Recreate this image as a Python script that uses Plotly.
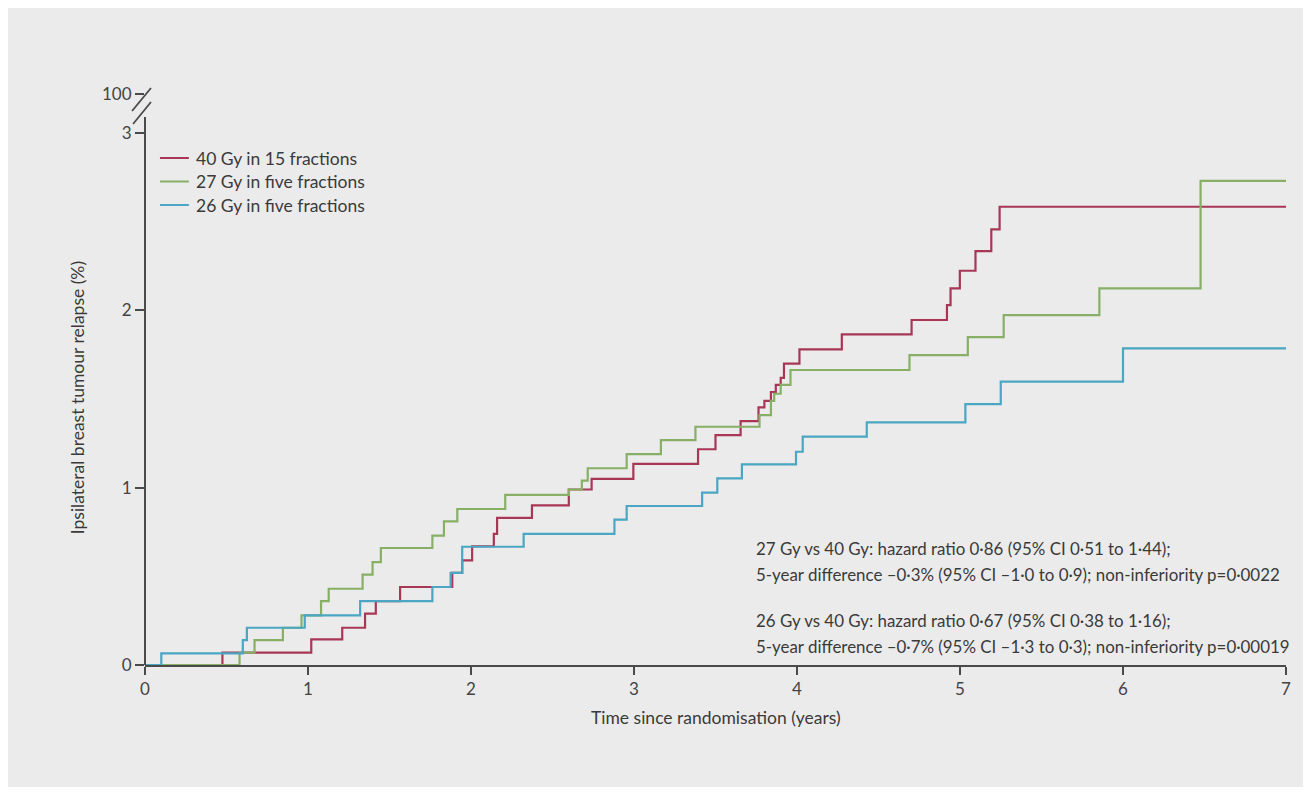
import plotly.graph_objects as go

# ---------------- data ----------------
series_names = ["40 Gy in 15 fractions", "27 Gy in five fractions", "26 Gy in five fractions"]

t_40 = [0, 0.475, 1.02, 1.21, 1.35, 1.416, 1.565, 1.885, 1.946, 2.007, 2.14, 2.16, 2.374, 2.60, 2.74,
        2.996, 3.393, 3.50, 3.654, 3.764, 3.80, 3.84, 3.87, 3.90, 3.92, 4.015, 4.275, 4.703, 4.92,
        4.942, 4.999, 5.095, 5.192, 5.243, 7.0]
v_40 = [0, 0.07, 0.145, 0.21, 0.29, 0.36, 0.44, 0.52, 0.59, 0.67, 0.74, 0.83, 0.90, 0.99, 1.05,
        1.134, 1.217, 1.297, 1.376, 1.453, 1.49, 1.54, 1.58, 1.62, 1.70, 1.78, 1.865, 1.946, 2.03,
        2.125, 2.224, 2.335, 2.457, 2.585, 2.585]

t_27 = [0, 0.58, 0.672, 0.846, 0.96, 1.08, 1.127, 1.335, 1.396, 1.447, 1.763, 1.834, 1.916, 2.21,
        2.60, 2.68, 2.716, 2.955, 3.165, 3.377, 3.77, 3.84, 3.86, 3.90, 3.96, 4.69, 5.048, 5.268,
        5.855, 6.476, 7.0]
v_27 = [0, 0.07, 0.14, 0.21, 0.28, 0.36, 0.43, 0.51, 0.58, 0.66, 0.73, 0.81, 0.88, 0.96,
        0.99, 1.04, 1.11, 1.19, 1.269, 1.344, 1.41, 1.49, 1.53, 1.58, 1.664, 1.748, 1.85, 1.974,
        2.125, 2.731, 2.731]

t_26 = [0, 0.10, 0.60, 0.625, 0.98, 1.32, 1.763, 1.875, 1.946, 2.323, 2.88, 2.955, 3.418, 3.511,
        3.662, 3.994, 4.035, 4.428, 5.033, 5.25, 6.0, 7.0]
v_26 = [0, 0.066, 0.14, 0.21, 0.28, 0.36, 0.44, 0.52, 0.667, 0.74, 0.82, 0.897, 0.972, 1.053,
        1.132, 1.203, 1.288, 1.369, 1.472, 1.598, 1.786, 1.786]

x_ticks = [0, 1, 2, 3, 4, 5, 6, 7]
y_tick_vals = [0, 1, 2, 3]
y_tick_text = ["0", "1", "2", "3"]
y_break_label = "100"

stat_lines = [
    "27 Gy vs 40 Gy: hazard ratio 0·86 (95% CI 0·51 to 1·44);",
    "5-year difference –0·3% (95% CI –1·0 to 0·9); non-inferiority p=0·0022",
    "26 Gy vs 40 Gy: hazard ratio 0·67 (95% CI 0·38 to 1·16);",
    "5-year difference –0·7% (95% CI –1·3 to 0·3); non-inferiority p=0·00019",
]

# ---------------- style ----------------
colors = ["#a83756", "#87b066", "#4aa6c2"]
BG = "#ebebeb"
AX = "#4a4a4a"
TXT = "#3a3a3a"
FONT = "Lato"
TS = 17.5
STAT_TS = 16.9

# the page body has an 8px margin; the figure is sized to fit inside the window
OFF = 8
W, H = 1311 - 2 * OFF, 795 - 2 * OFF
PLOT_L, PLOT_R, PLOT_T, PLOT_B = 145, 1290, 94, 665   # screen pixels of the plot area
L, R = PLOT_L - OFF, W - (PLOT_R - OFF)
T, B = PLOT_T - OFF, H - (PLOT_B - OFF)
PW, PH = PLOT_R - PLOT_L, PLOT_B - PLOT_T
Y_TOP = 3.221          # axis value at the top of the plot area (where the "100" tick sits)
Y_100 = 3.22

def px2x(px):
    return (px - PLOT_L) / PW

def px2y(py):
    return (PLOT_B - py) / PH

fig = go.Figure()
for name, t, v, c in zip(series_names, [t_40, t_27, t_26], [v_40, v_27, v_26], colors):
    fig.add_trace(go.Scatter(x=t, y=v, mode="lines", name=name,
                             line=dict(color=c, width=2.2, shape="hv"),
                             showlegend=False, hoverinfo="skip"))

shapes = []
# broken y axis line
shapes.append(dict(type="line", xref="paper", yref="paper", x0=0, x1=0,
                   y0=0, y1=px2y(117), line=dict(color=AX, width=2)))
# break slashes
shapes.append(dict(type="line", xref="paper", yref="paper",
                   x0=px2x(132), y0=px2y(111), x1=px2x(151), y1=px2y(88),
                   line=dict(color=AX, width=1.8)))
shapes.append(dict(type="line", xref="paper", yref="paper",
                   x0=px2x(133), y0=px2y(124), x1=px2x(151), y1=px2y(102),
                   line=dict(color=AX, width=1.8)))

annotations = []
# manual legend
for i, (name, c) in enumerate(zip(series_names, colors)):
    yy = 158 + i * 23.5
    shapes.append(dict(type="line", xref="paper", yref="paper",
                       x0=px2x(160), x1=px2x(189), y0=px2y(yy), y1=px2y(yy),
                       line=dict(color=c, width=2)))
    annotations.append(dict(text=name, xref="paper", yref="paper", x=px2x(194), y=px2y(yy),
                            xanchor="left", yanchor="middle", showarrow=False,
                            font=dict(family=FONT, size=TS, color=TXT)))

# statistics text
for txt, yy in zip(stat_lines, [548, 574, 620, 646]):
    annotations.append(dict(text=txt, xref="paper", yref="paper", x=px2x(756), y=px2y(yy),
                            xanchor="left", yanchor="middle", showarrow=False,
                            font=dict(family=FONT, size=STAT_TS, color=TXT)))

# axis titles
annotations.append(dict(text="Time since randomisation (years)", xref="paper", yref="paper",
                        x=px2x(718), y=px2y(717), xanchor="center", yanchor="middle",
                        showarrow=False, font=dict(family=FONT, size=TS, color=TXT)))
annotations.append(dict(text="Ipsilateral breast tumour relapse (%)", xref="paper", yref="paper",
                        x=px2x(77), y=px2y(398), xanchor="center", yanchor="middle",
                        textangle=-90, showarrow=False,
                        font=dict(family=FONT, size=TS, color=TXT)))

fig.update_layout(
    width=W, height=H,
    margin=dict(l=L, r=R, t=T, b=B, pad=0),
    paper_bgcolor=BG, plot_bgcolor=BG,
    shapes=shapes, annotations=annotations,
    showlegend=False,
    font=dict(family=FONT, size=TS, color=TXT),
)
fig.update_xaxes(range=[0, 7], tickvals=x_ticks, ticks="outside", ticklen=8, tickwidth=1.6,
                 tickcolor=AX, showline=True, linecolor=AX, linewidth=2, showgrid=False,
                 zeroline=False, tickfont=dict(family=FONT, size=17, color="#444"))
fig.update_yaxes(range=[0, Y_TOP], tickvals=y_tick_vals + [Y_100],
                 ticktext=y_tick_text + [y_break_label], ticks="outside", ticklen=9,
                 tickwidth=1.6, tickcolor=AX, showline=False, showgrid=False, zeroline=False,
                 tickfont=dict(family=FONT, size=17, color="#444"))

fig.write_html("out.html")
